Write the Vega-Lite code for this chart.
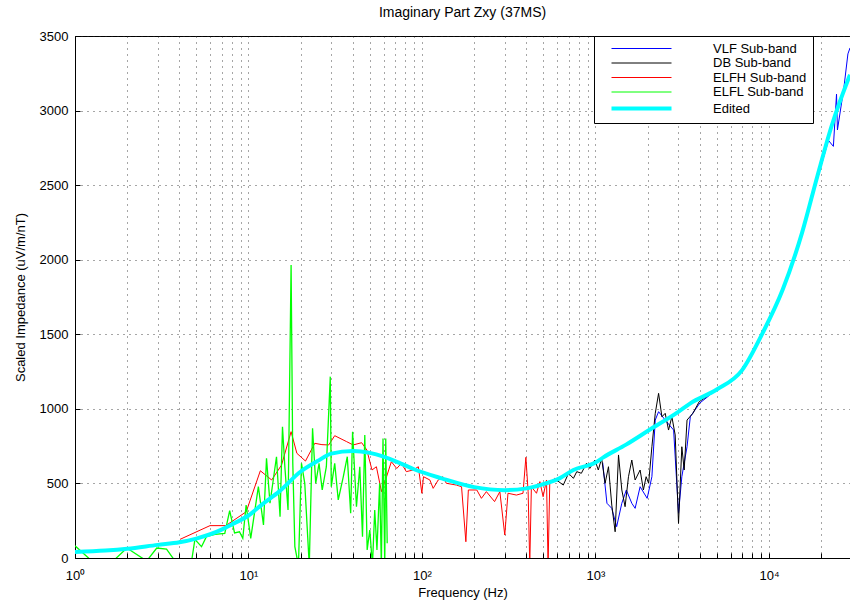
{
  "$schema": "https://vega.github.io/schema/vega-lite/v6.json",
  "width": 775,
  "height": 522,
  "autosize": {"type": "none"},
  "padding": {"left": 75, "top": 36, "right": 0, "bottom": 49},
  "background": "white",
  "config": {
    "font": "Liberation Sans",
    "view": {"stroke": "black", "strokeWidth": 1},
    "axis": {
      "domainColor": "black",
      "tickColor": "black",
      "labelColor": "black",
      "titleColor": "black",
      "labelFont": "Liberation Sans",
      "titleFont": "Liberation Sans",
      "labelFontSize": 13,
      "titleFontSize": 13,
      "titleFontWeight": "normal",
      "gridColor": "#222222",
      "gridDash": [1, 5],
      "gridOpacity": 0.8,
      "gridWidth": 1,
      "tickSize": -5
    }
  },
  "title": {
    "text": "Imaginary Part Zxy (37MS)",
    "font": "Liberation Sans",
    "fontSize": 14,
    "fontWeight": "normal",
    "color": "black",
    "offset": 10
  },
  "data": {
    "values": [
      {"s": "VLF Sub-band", "f": 1100, "v": 640},
      {"s": "VLF Sub-band", "f": 1164, "v": 367},
      {"s": "VLF Sub-band", "f": 1241, "v": 333},
      {"s": "VLF Sub-band", "f": 1324, "v": 210},
      {"s": "VLF Sub-band", "f": 1418, "v": 367},
      {"s": "VLF Sub-band", "f": 1505, "v": 456},
      {"s": "VLF Sub-band", "f": 1619, "v": 367},
      {"s": "VLF Sub-band", "f": 1692, "v": 333},
      {"s": "VLF Sub-band", "f": 1808, "v": 478},
      {"s": "VLF Sub-band", "f": 1985, "v": 400},
      {"s": "VLF Sub-band", "f": 2114, "v": 545},
      {"s": "VLF Sub-band", "f": 2210, "v": 925},
      {"s": "VLF Sub-band", "f": 2310, "v": 981},
      {"s": "VLF Sub-band", "f": 2522, "v": 925},
      {"s": "VLF Sub-band", "f": 2820, "v": 858},
      {"s": "VLF Sub-band", "f": 3010, "v": 300},
      {"s": "VLF Sub-band", "f": 3145, "v": 545},
      {"s": "VLF Sub-band", "f": 3370, "v": 746},
      {"s": "VLF Sub-band", "f": 3520, "v": 947},
      {"s": "VLF Sub-band", "f": 4000, "v": 1040},
      {"s": "VLF Sub-band", "f": 5000, "v": 1130},
      {"s": "VLF Sub-band", "f": 6000, "v": 1190},
      {"s": "VLF Sub-band", "f": 7000, "v": 1255},
      {"s": "VLF Sub-band", "f": 9000, "v": 1480},
      {"s": "VLF Sub-band", "f": 12000, "v": 1790},
      {"s": "VLF Sub-band", "f": 15500, "v": 2170},
      {"s": "VLF Sub-band", "f": 19000, "v": 2540},
      {"s": "VLF Sub-band", "f": 22000, "v": 2800},
      {"s": "VLF Sub-band", "f": 23500, "v": 2760},
      {"s": "VLF Sub-band", "f": 24500, "v": 3110},
      {"s": "VLF Sub-band", "f": 24800, "v": 2870},
      {"s": "VLF Sub-band", "f": 27000, "v": 3150},
      {"s": "VLF Sub-band", "f": 28500, "v": 3380},
      {"s": "VLF Sub-band", "f": 29300, "v": 3420},

      {"s": "DB Sub-band", "f": 596, "v": 523},
      {"s": "DB Sub-band", "f": 652, "v": 489},
      {"s": "DB Sub-band", "f": 699, "v": 568},
      {"s": "DB Sub-band", "f": 746, "v": 534},
      {"s": "DB Sub-band", "f": 780, "v": 579},
      {"s": "DB Sub-band", "f": 829, "v": 568},
      {"s": "DB Sub-band", "f": 887, "v": 635},
      {"s": "DB Sub-band", "f": 927, "v": 601},
      {"s": "DB Sub-band", "f": 992, "v": 657},
      {"s": "DB Sub-band", "f": 1038, "v": 590},
      {"s": "DB Sub-band", "f": 1085, "v": 668},
      {"s": "DB Sub-band", "f": 1136, "v": 501},
      {"s": "DB Sub-band", "f": 1188, "v": 612},
      {"s": "DB Sub-band", "f": 1241, "v": 355},
      {"s": "DB Sub-band", "f": 1298, "v": 176},
      {"s": "DB Sub-band", "f": 1357, "v": 691},
      {"s": "DB Sub-band", "f": 1418, "v": 456},
      {"s": "DB Sub-band", "f": 1481, "v": 344},
      {"s": "DB Sub-band", "f": 1549, "v": 545},
      {"s": "DB Sub-band", "f": 1619, "v": 657},
      {"s": "DB Sub-band", "f": 1692, "v": 523},
      {"s": "DB Sub-band", "f": 1808, "v": 590},
      {"s": "DB Sub-band", "f": 1888, "v": 456},
      {"s": "DB Sub-band", "f": 1958, "v": 545},
      {"s": "DB Sub-band", "f": 2024, "v": 501},
      {"s": "DB Sub-band", "f": 2114, "v": 746},
      {"s": "DB Sub-band", "f": 2210, "v": 970},
      {"s": "DB Sub-band", "f": 2310, "v": 1104},
      {"s": "DB Sub-band", "f": 2414, "v": 947},
      {"s": "DB Sub-band", "f": 2522, "v": 970},
      {"s": "DB Sub-band", "f": 2636, "v": 858},
      {"s": "DB Sub-band", "f": 2755, "v": 947},
      {"s": "DB Sub-band", "f": 2880, "v": 825},
      {"s": "DB Sub-band", "f": 3010, "v": 232},
      {"s": "DB Sub-band", "f": 3145, "v": 746},
      {"s": "DB Sub-band", "f": 3245, "v": 590},
      {"s": "DB Sub-band", "f": 3370, "v": 925},
      {"s": "DB Sub-band", "f": 3640, "v": 970},
      {"s": "DB Sub-band", "f": 3960, "v": 1048},
      {"s": "DB Sub-band", "f": 4370, "v": 1082},
      {"s": "DB Sub-band", "f": 5050, "v": 1138},
      {"s": "DB Sub-band", "f": 5500, "v": 1160},
      {"s": "DB Sub-band", "f": 6000, "v": 1193},
      {"s": "DB Sub-band", "f": 6300, "v": 1210},

      {"s": "ELFH Sub-band", "f": 4.03, "v": 125},
      {"s": "ELFH Sub-band", "f": 6.0, "v": 217},
      {"s": "ELFH Sub-band", "f": 7.4, "v": 217},
      {"s": "ELFH Sub-band", "f": 9.7, "v": 310},
      {"s": "ELFH Sub-band", "f": 11.7, "v": 585},
      {"s": "ELFH Sub-band", "f": 13.6, "v": 523},
      {"s": "ELFH Sub-band", "f": 15.5, "v": 623},
      {"s": "ELFH Sub-band", "f": 17.6, "v": 847},
      {"s": "ELFH Sub-band", "f": 19.0, "v": 702},
      {"s": "ELFH Sub-band", "f": 21.3, "v": 650},
      {"s": "ELFH Sub-band", "f": 24.1, "v": 769},
      {"s": "ELFH Sub-band", "f": 26.5, "v": 760},
      {"s": "ELFH Sub-band", "f": 29.0, "v": 758},
      {"s": "ELFH Sub-band", "f": 31.4, "v": 820},
      {"s": "ELFH Sub-band", "f": 36.8, "v": 780},
      {"s": "ELFH Sub-band", "f": 40.1, "v": 758},
      {"s": "ELFH Sub-band", "f": 44.9, "v": 773},
      {"s": "ELFH Sub-band", "f": 48.1, "v": 724},
      {"s": "ELFH Sub-band", "f": 51.5, "v": 590},
      {"s": "ELFH Sub-band", "f": 54.6, "v": 612},
      {"s": "ELFH Sub-band", "f": 58.4, "v": 445},
      {"s": "ELFH Sub-band", "f": 62.6, "v": 548},
      {"s": "ELFH Sub-band", "f": 66.6, "v": 646},
      {"s": "ELFH Sub-band", "f": 71.5, "v": 600},
      {"s": "ELFH Sub-band", "f": 76.1, "v": 635},
      {"s": "ELFH Sub-band", "f": 81.2, "v": 579},
      {"s": "ELFH Sub-band", "f": 88.9, "v": 590},
      {"s": "ELFH Sub-band", "f": 95.3, "v": 612},
      {"s": "ELFH Sub-band", "f": 99.8, "v": 434},
      {"s": "ELFH Sub-band", "f": 102, "v": 545},
      {"s": "ELFH Sub-band", "f": 111, "v": 523},
      {"s": "ELFH Sub-band", "f": 116, "v": 467},
      {"s": "ELFH Sub-band", "f": 124, "v": 523},
      {"s": "ELFH Sub-band", "f": 132, "v": 545},
      {"s": "ELFH Sub-band", "f": 138, "v": 501},
      {"s": "ELFH Sub-band", "f": 158, "v": 489},
      {"s": "ELFH Sub-band", "f": 169, "v": 478},
      {"s": "ELFH Sub-band", "f": 179, "v": 109},
      {"s": "ELFH Sub-band", "f": 185, "v": 456},
      {"s": "ELFH Sub-band", "f": 207, "v": 456},
      {"s": "ELFH Sub-band", "f": 220, "v": 400},
      {"s": "ELFH Sub-band", "f": 235, "v": 445},
      {"s": "ELFH Sub-band", "f": 262, "v": 378},
      {"s": "ELFH Sub-band", "f": 281, "v": 445},
      {"s": "ELFH Sub-band", "f": 300, "v": 154},
      {"s": "ELFH Sub-band", "f": 313, "v": 434},
      {"s": "ELFH Sub-band", "f": 350, "v": 422},
      {"s": "ELFH Sub-band", "f": 382, "v": 434},
      {"s": "ELFH Sub-band", "f": 397, "v": 675},
      {"s": "ELFH Sub-band", "f": 409, "v": 445},
      {"s": "ELFH Sub-band", "f": 418, "v": -50},
      {"s": "ELFH Sub-band", "f": 427, "v": 478},
      {"s": "ELFH Sub-band", "f": 457, "v": 434},
      {"s": "ELFH Sub-band", "f": 478, "v": 512},
      {"s": "ELFH Sub-band", "f": 499, "v": 411},
      {"s": "ELFH Sub-band", "f": 522, "v": 523},
      {"s": "ELFH Sub-band", "f": 533, "v": -50},
      {"s": "ELFH Sub-band", "f": 545, "v": 501},
      {"s": "ELFH Sub-band", "f": 582, "v": 534},
      {"s": "ELFH Sub-band", "f": 609, "v": 523},

      {"s": "ELFL Sub-band", "f": 1.0, "v": 82},
      {"s": "ELFL Sub-band", "f": 1.25, "v": -20},
      {"s": "ELFL Sub-band", "f": 1.66, "v": -20},
      {"s": "ELFL Sub-band", "f": 1.99, "v": 67},
      {"s": "ELFL Sub-band", "f": 2.59, "v": -20},
      {"s": "ELFL Sub-band", "f": 2.96, "v": 67},
      {"s": "ELFL Sub-band", "f": 3.37, "v": 60},
      {"s": "ELFL Sub-band", "f": 3.77, "v": -20},
      {"s": "ELFL Sub-band", "f": 4.7, "v": -20},
      {"s": "ELFL Sub-band", "f": 4.91, "v": 125},
      {"s": "ELFL Sub-band", "f": 5.36, "v": 76},
      {"s": "ELFL Sub-band", "f": 5.72, "v": 143},
      {"s": "ELFL Sub-band", "f": 6.41, "v": 159},
      {"s": "ELFL Sub-band", "f": 7.3, "v": 165},
      {"s": "ELFL Sub-band", "f": 7.79, "v": 317},
      {"s": "ELFL Sub-band", "f": 8.31, "v": 168},
      {"s": "ELFL Sub-band", "f": 8.87, "v": 176},
      {"s": "ELFL Sub-band", "f": 9.27, "v": 132},
      {"s": "ELFL Sub-band", "f": 9.69, "v": 355},
      {"s": "ELFL Sub-band", "f": 10.3, "v": 132},
      {"s": "ELFL Sub-band", "f": 11.4, "v": 478},
      {"s": "ELFL Sub-band", "f": 12.2, "v": 221},
      {"s": "ELFL Sub-band", "f": 12.7, "v": 668},
      {"s": "ELFL Sub-band", "f": 13.3, "v": 367},
      {"s": "ELFL Sub-band", "f": 14.5, "v": 679},
      {"s": "ELFL Sub-band", "f": 15.2, "v": 277},
      {"s": "ELFL Sub-band", "f": 15.7, "v": 880},
      {"s": "ELFL Sub-band", "f": 16.2, "v": 612},
      {"s": "ELFL Sub-band", "f": 16.9, "v": 322},
      {"s": "ELFL Sub-band", "f": 17.6, "v": 1965},
      {"s": "ELFL Sub-band", "f": 18.0, "v": 637},
      {"s": "ELFL Sub-band", "f": 18.5, "v": 76},
      {"s": "ELFL Sub-band", "f": 19.4, "v": -50},
      {"s": "ELFL Sub-band", "f": 20.2, "v": 635},
      {"s": "ELFL Sub-band", "f": 21.1, "v": 501},
      {"s": "ELFL Sub-band", "f": 22.4, "v": -50},
      {"s": "ELFL Sub-band", "f": 23.4, "v": 870},
      {"s": "ELFL Sub-band", "f": 24.4, "v": 501},
      {"s": "ELFL Sub-band", "f": 25.5, "v": 635},
      {"s": "ELFL Sub-band", "f": 26.6, "v": 456},
      {"s": "ELFL Sub-band", "f": 28.1, "v": 612},
      {"s": "ELFL Sub-band", "f": 29.6, "v": 1216},
      {"s": "ELFL Sub-band", "f": 30.0, "v": 478},
      {"s": "ELFL Sub-band", "f": 31.4, "v": 635},
      {"s": "ELFL Sub-band", "f": 32.9, "v": 389},
      {"s": "ELFL Sub-band", "f": 35.2, "v": 545},
      {"s": "ELFL Sub-band", "f": 37.1, "v": 679},
      {"s": "ELFL Sub-band", "f": 38.8, "v": 300},
      {"s": "ELFL Sub-band", "f": 39.8, "v": 847},
      {"s": "ELFL Sub-band", "f": 41.9, "v": 344},
      {"s": "ELFL Sub-band", "f": 43.8, "v": 612},
      {"s": "ELFL Sub-band", "f": 45.4, "v": 143},
      {"s": "ELFL Sub-band", "f": 46.8, "v": 825},
      {"s": "ELFL Sub-band", "f": 48.3, "v": 54},
      {"s": "ELFL Sub-band", "f": 50.0, "v": 188},
      {"s": "ELFL Sub-band", "f": 51.8, "v": -50},
      {"s": "ELFL Sub-band", "f": 53.4, "v": 322},
      {"s": "ELFL Sub-band", "f": 55.0, "v": 54},
      {"s": "ELFL Sub-band", "f": 57.0, "v": 501},
      {"s": "ELFL Sub-band", "f": 58.3, "v": -50},
      {"s": "ELFL Sub-band", "f": 59.6, "v": 802},
      {"s": "ELFL Sub-band", "f": 61.0, "v": -50},
      {"s": "ELFL Sub-band", "f": 61.8, "v": 802},
      {"s": "ELFL Sub-band", "f": 63.0, "v": 99},

      {"s": "Edited", "f": 1, "v": 40},
      {"s": "Edited", "f": 1.5, "v": 50},
      {"s": "Edited", "f": 2, "v": 62},
      {"s": "Edited", "f": 3, "v": 88},
      {"s": "Edited", "f": 4, "v": 105},
      {"s": "Edited", "f": 5, "v": 130},
      {"s": "Edited", "f": 7, "v": 190},
      {"s": "Edited", "f": 8, "v": 225},
      {"s": "Edited", "f": 10, "v": 285},
      {"s": "Edited", "f": 12, "v": 360},
      {"s": "Edited", "f": 15, "v": 445},
      {"s": "Edited", "f": 20, "v": 580},
      {"s": "Edited", "f": 25, "v": 650},
      {"s": "Edited", "f": 30, "v": 700},
      {"s": "Edited", "f": 40, "v": 717},
      {"s": "Edited", "f": 50, "v": 705},
      {"s": "Edited", "f": 60, "v": 680},
      {"s": "Edited", "f": 75, "v": 635},
      {"s": "Edited", "f": 90, "v": 595},
      {"s": "Edited", "f": 130, "v": 534},
      {"s": "Edited", "f": 200, "v": 475},
      {"s": "Edited", "f": 300, "v": 455},
      {"s": "Edited", "f": 400, "v": 467},
      {"s": "Edited", "f": 480, "v": 489},
      {"s": "Edited", "f": 620, "v": 534},
      {"s": "Edited", "f": 746, "v": 590},
      {"s": "Edited", "f": 1000, "v": 640},
      {"s": "Edited", "f": 1110, "v": 675},
      {"s": "Edited", "f": 1500, "v": 760},
      {"s": "Edited", "f": 2040, "v": 858},
      {"s": "Edited", "f": 3000, "v": 980},
      {"s": "Edited", "f": 3520, "v": 1037},
      {"s": "Edited", "f": 5000, "v": 1130},
      {"s": "Edited", "f": 7000, "v": 1260},
      {"s": "Edited", "f": 9200, "v": 1510},
      {"s": "Edited", "f": 12000, "v": 1800},
      {"s": "Edited", "f": 15500, "v": 2180},
      {"s": "Edited", "f": 19000, "v": 2560},
      {"s": "Edited", "f": 23000, "v": 2900},
      {"s": "Edited", "f": 29300, "v": 3240}
    ]
  },
  "encoding": {
    "x": {
      "field": "f",
      "type": "quantitative",
      "scale": {"type": "log", "domain": [1, 29300], "nice": false},
      "axis": {
        "title": "Frequency (Hz)",
        "values": [1,2,3,4,5,6,7,8,9,10,20,30,40,50,60,70,80,90,100,200,300,400,500,600,700,800,900,1000,2000,3000,4000,5000,6000,7000,8000,9000,10000,20000],
        "labelExpr": "datum.value==1?'10⁰':datum.value==10?'10¹':datum.value==100?'10²':datum.value==1000?'10³':datum.value==10000?'10⁴':''",
        "grid": true,
        "labelPadding": 16,
        "titlePadding": 4,
        "labelFlush": false,
        "labelOverlap": false
      }
    },
    "y": {
      "field": "v",
      "type": "quantitative",
      "scale": {"domain": [0, 3500], "nice": false, "zero": false},
      "axis": {
        "title": "Scaled Impedance (uV/m/nT)",
        "values": [0, 500, 1000, 1500, 2000, 2500, 3000, 3500],
        "format": "d",
        "grid": true,
        "labelPadding": 12,
        "titlePadding": 12
      }
    },
    "color": {
      "field": "s",
      "type": "nominal",
      "scale": {
        "domain": ["VLF Sub-band", "DB Sub-band", "ELFH Sub-band", "ELFL Sub-band", "Edited"],
        "range": ["#0000ff", "#000000", "#ff0000", "#00ff00", "#00ffff"]
      },
      "legend": {
        "title": null,
        "orient": "none",
        "legendX": 519,
        "legendY": 0,
        "fillColor": "white",
        "strokeColor": "black",
        "padding": 6,
        "labelFontSize": 13,
        "labelFont": "Liberation Sans",
        "labelColor": "black",
        "symbolType": "M-60,0H60",
        "symbolSize": 1,
        "symbolOffset": 35,
        "labelOffset": 65,
        "rowPadding": 0.5,
        "labelLimit": 200,
        "encode": {
          "symbols": {
            "update": {
              "strokeWidth": {"signal": "datum.value == 'Edited' ? 4 : 1"}
            }
          }
        }
      }
    }
  },
  "layer": [
    {"transform": [{"filter": "datum.s == 'VLF Sub-band'"}], "mark": {"type": "line", "clip": true, "strokeWidth": 1}},
    {"transform": [{"filter": "datum.s == 'DB Sub-band'"}], "mark": {"type": "line", "clip": true, "strokeWidth": 1}},
    {"transform": [{"filter": "datum.s == 'ELFH Sub-band'"}], "mark": {"type": "line", "clip": true, "strokeWidth": 1}},
    {"transform": [{"filter": "datum.s == 'ELFL Sub-band'"}], "mark": {"type": "line", "clip": true, "strokeWidth": 1.3}},
    {"transform": [{"filter": "datum.s == 'Edited'"}], "mark": {"type": "line", "clip": true, "strokeWidth": 4, "interpolate": "monotone"}}
  ]
}
